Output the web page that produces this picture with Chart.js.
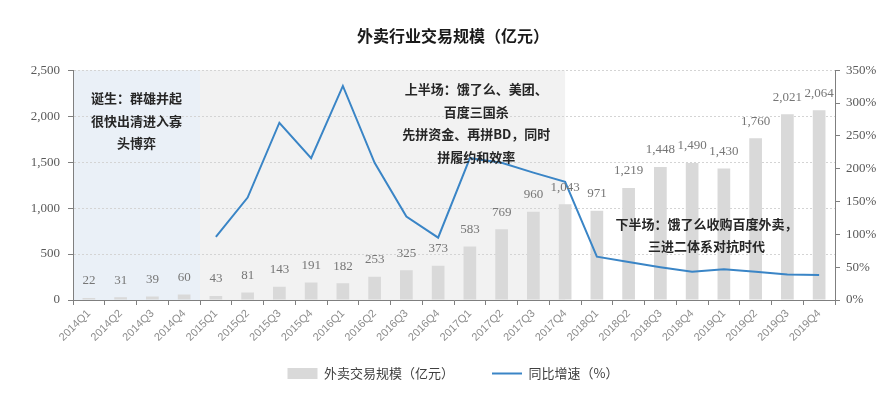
<!DOCTYPE html>
<html>
<head>
<meta charset="utf-8">
<script src="https://cdn.jsdelivr.net/npm/chart.js@4.4.1/dist/chart.umd.min.js"></script>
<style>
  html, body { margin: 0; padding: 0; background: #ffffff; }
  #wrap { width: 882px; height: 394px; }
</style>
</head>
<body>
<div id="wrap"><canvas id="chart" width="882" height="394"></canvas></div>
<script>
const categories = ['2014Q1', '2014Q2', '2014Q3', '2014Q4', '2015Q1', '2015Q2', '2015Q3', '2015Q4',
  '2016Q1', '2016Q2', '2016Q3', '2016Q4', '2017Q1', '2017Q2', '2017Q3', '2017Q4',
  '2018Q1', '2018Q2', '2018Q3', '2018Q4', '2019Q1', '2019Q2', '2019Q3', '2019Q4'];
const tradeScale = [22, 31, 39, 60, 43, 81, 143, 191, 182, 253, 325, 373,
  583, 769, 960, 1043, 971, 1219, 1448, 1490, 1430, 1760, 2021, 2064];
const yoyGrowth = [null, null, null, null, 96, 156, 270, 216, 326, 209, 127, 95,
  216, 209, 194, 180, 66, 58, 50, 43, 47, 43, 39, 38];
const leftTicks = [0, 500, 1000, 1500, 2000, 2500];
const rightTicks = [0, 50, 100, 150, 200, 250, 300, 350];

// phases: [from index, to index, colour] in category units
const phases = [
  { from: -0.5, to: 3.5, color: '#eaf0f7' },
  { from: 3.5, to: 15, color: '#f2f2f2' }
];
const notes = [
  { x: 1.5, y: 2195, lines: ['诞生：群雄并起', '很快出清进入寡', '头博弈'] },
  { x: 12.2, y: 2290, lines: ['上半场：饿了么、美团、', '百度三国杀', '先拼资金、再拼BD，同时', '拼履约和效率'] },
  { x: 19.45, y: 830, lines: ['下半场：饿了么收购百度外卖，', '三进二体系对抗时代'] }
];

const axisColor = '#7f7f7f';
const serif = "'Liberation Serif', 'DejaVu Serif', serif";
const cjk = "'Noto Sans CJK SC', 'Noto Sans', sans-serif";

const backdrop = {
  id: 'backdrop',
  beforeDraw(chart) {
    const { ctx, chartArea, scales } = chart;
    const x = scales.x;
    // let the rotated labels run below the (short) x axis box
    x._computeLabelArea = () => undefined;
    const step = x.getPixelForValue(1) - x.getPixelForValue(0);
    ctx.save();
    phases.forEach(p => {
      const a = x.getPixelForValue(0) + p.from * step;
      const b = x.getPixelForValue(0) + p.to * step;
      ctx.fillStyle = p.color;
      ctx.fillRect(a, chartArea.top, b - a, chartArea.bottom - chartArea.top);
    });
    ctx.restore();
  }
};

const extras = {
  id: 'extras',
  afterDatasetsDraw(chart) {
    const { ctx, scales } = chart;
    const x = scales.x, y = scales.y;
    const step = x.getPixelForValue(1) - x.getPixelForValue(0);
    ctx.save();
    // bar value labels
    ctx.font = '13px ' + serif;
    ctx.fillStyle = '#767676';
    ctx.textAlign = 'center';
    ctx.textBaseline = 'middle';
    chart.getDatasetMeta(0).data.forEach((bar, i) => {
      ctx.fillText(tradeScale[i].toLocaleString('en-US'), bar.x, bar.y - 17);
    });
    // phase notes
    ctx.font = 'bold 13px ' + cjk;
    ctx.fillStyle = '#262626';
    notes.forEach(n => {
      const cx = x.getPixelForValue(0) + n.x * step;
      const top = y.getPixelForValue(n.y);
      n.lines.forEach((t, k) => ctx.fillText(t, cx, top + k * 22.5));
    });
    ctx.restore();
  }
};

new Chart(document.getElementById('chart'), {
  type: 'bar',
  data: {
    labels: categories,
    datasets: [
      {
        label: '外卖交易规模（亿元）',
        data: tradeScale,
        backgroundColor: '#d9d9d9',
        barPercentage: 0.4,
        categoryPercentage: 1,
        yAxisID: 'y',
        pointStyle: 'rect',
        order: 2
      },
      {
        type: 'line',
        label: '同比增速（%）',
        data: yoyGrowth,
        borderColor: '#3a85c6',
        backgroundColor: '#3a85c6',
        borderWidth: 2,
        pointRadius: 0,
        pointStyle: 'line',
        tension: 0,
        yAxisID: 'y1',
        order: 1
      }
    ]
  },
  options: {
    responsive: false,
    devicePixelRatio: 1,
    animation: false,
    layout: { padding: { left: 24, right: 0, top: 0, bottom: 4 } },
    plugins: {
      title: {
        display: true,
        text: '外卖行业交易规模（亿元）',
        color: '#1a1a1a',
        font: { family: cjk, size: 16, weight: 'bold' },
        padding: { top: 26, bottom: 25 }
      },
      legend: {
        position: 'bottom',
        labels: {
          usePointStyle: true,
          pointStyleWidth: 30,
          boxHeight: 11,
          color: '#404040',
          padding: 38,
          font: { family: cjk, size: 13 },
          sort: (a, b) => a.datasetIndex - b.datasetIndex
        }
      },
      tooltip: { enabled: false }
    },
    scales: {
      x: {
        grid: { display: true, drawOnChartArea: false, tickLength: 5, color: axisColor },
        border: { color: axisColor },
        ticks: {
          color: '#8c8c8c',
          font: { family: "'Liberation Sans', sans-serif", size: 11 },
          minRotation: 45,
          maxRotation: 45,
          padding: 2
        },
        afterFit(scale) { scale.height = 29; }
      },
      y: {
        position: 'left',
        min: 0,
        max: 2500,
        afterBuildTicks(scale) { scale.ticks = leftTicks.map(v => ({ value: v })); },
        grid: {
          color: '#d4d4d4',
          tickColor: axisColor,
          tickLength: 5,
          drawTicks: true
        },
        border: { display: true, color: axisColor, dash: [2, 2] },
        ticks: {
          color: '#595959',
          font: { family: serif, size: 13 },
          padding: 8,
          callback: v => v.toLocaleString('en-US')
        },
        afterFit(scale) { scale.width = 49; }
      },
      y1: {
        position: 'right',
        min: 0,
        max: 350,
        afterBuildTicks(scale) { scale.ticks = rightTicks.map(v => ({ value: v })); },
        grid: { drawOnChartArea: false, color: axisColor, tickLength: 5 },
        border: { display: true, color: axisColor },
        ticks: {
          color: '#595959',
          font: { family: serif, size: 13 },
          padding: 6,
          callback: v => v + '%'
        },
        afterFit(scale) { scale.width = 47; }
      }
    }
  },
  plugins: [backdrop, extras]
});
</script>
</body>
</html>
